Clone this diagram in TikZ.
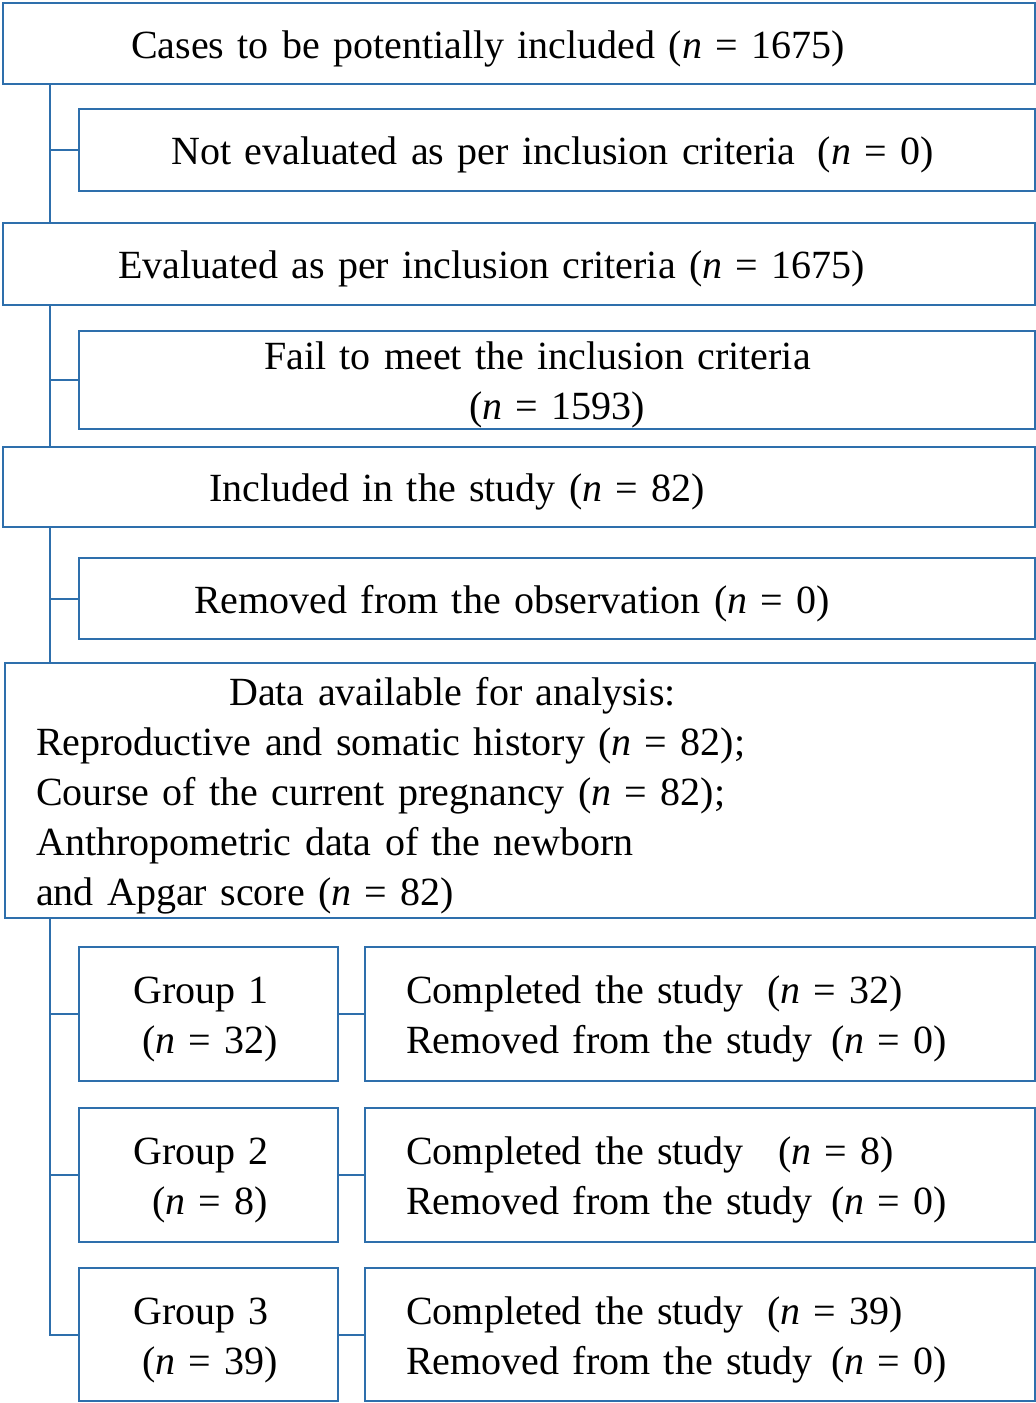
\documentclass[tikz,border=0pt]{standalone}
\usepackage{fontspec}
\setmainfont{Liberation Serif}
\usepackage{tikz}
\usetikzlibrary{positioning}
\definecolor{FlowBlue}{HTML}{2E6FAC}
\newcommand{\nval}[1]{(\textit{n} = #1)}

\tikzset{
  box/.style={draw=FlowBlue, line width=2.4pt, rectangle, anchor=north west, inner sep=0pt, align=left, text height=38pt, font=\fontsize{40}{50}\selectfont},
  link/.style={draw=FlowBlue, line width=2.4pt},
}

\begin{document}
\begin{tikzpicture}[x=1pt, y=-1pt]
\useasboundingbox (0,0) rectangle (1036,1403);
\coordinate (trunk) at (50,0);
% screening stages
\node[box, text width=1032pt, minimum height=81pt] (cases) at (2,2) {\hspace*{128pt}Cases to be potentially included \nval{1675}};
\node[box, text width=956pt, minimum height=82pt] (noteval) at (78,108) {\hspace*{92pt}Not evaluated as per inclusion criteria \hspace{9pt}\nval{0}};
\node[box, text width=1032pt, minimum height=82pt] (evaluated) at (2,222) {\hspace*{115pt}Evaluated as per inclusion criteria \nval{1675}};
\node[box, text width=956pt, minimum height=98pt] (fail) at (78,330) {\hspace*{185pt}Fail to meet the inclusion criteria\\\hspace*{390pt}\nval{1593}};
\node[box, text width=1032pt, minimum height=80pt] (included) at (2,446) {\hspace*{206pt}Included in the study \nval{82}};
\node[box, text width=956pt, minimum height=81pt] (removed) at (78,557) {\hspace*{115pt}Removed from the observation \nval{0}};
\node[box, text width=1030pt, minimum height=255pt] (data) at (4,662) {\hspace*{224pt}Data available for analysis:\\
  \hspace*{31pt}Reproductive and somatic history \nval{82};\\
  \hspace*{31pt}Course of the current pregnancy \nval{82};\\
  \hspace*{31pt}Anthropometric data of the newborn\\
  \hspace*{31pt}and Apgar score \nval{82}};
% groups
\node[box, text width=259pt, minimum height=134pt] (grp1) at (78,946) {\hspace*{54pt}Group 1\\\hspace*{63pt}\nval{32}};
\node[box, text width=259pt, minimum height=134pt] (grp2) at (78,1107) {\hspace*{54pt}Group 2\\\hspace*{73pt}\nval{8}};
\node[box, text width=259pt, minimum height=133pt] (grp3) at (78,1267) {\hspace*{54pt}Group 3\\\hspace*{63pt}\nval{39}};
\node[box, text width=670pt, minimum height=134pt] (done1) at (364,946) {\hspace*{41pt}Completed the study \hspace{10pt}\nval{32}\\\hspace*{41pt}Removed from the study \hspace{5pt}\nval{0}};
\node[box, text width=670pt, minimum height=134pt] (done2) at (364,1107) {\hspace*{41pt}Completed the study \hspace{21pt}\nval{8}\\\hspace*{41pt}Removed from the study \hspace{5pt}\nval{0}};
\node[box, text width=670pt, minimum height=133pt] (done3) at (364,1267) {\hspace*{41pt}Completed the study \hspace{10pt}\nval{39}\\\hspace*{41pt}Removed from the study \hspace{5pt}\nval{0}};
% connectors
\draw[link] (cases.south -| trunk) -- (evaluated.north -| trunk);
\draw[link] (noteval.west) -- (noteval.west -| trunk);
\draw[link] (evaluated.south -| trunk) -- (included.north -| trunk);
\draw[link] (fail.west) -- (fail.west -| trunk);
\draw[link] (included.south -| trunk) -- (data.north -| trunk);
\draw[link] (removed.west) -- (removed.west -| trunk);
\draw[link] (data.south -| trunk) |- (grp3.west);
\draw[link] (grp1.west) -- (grp1.west -| trunk);
\draw[link] (grp2.west) -- (grp2.west -| trunk);
\draw[link] (grp1.east) -- (done1.west);
\draw[link] (grp2.east) -- (done2.west);
\draw[link] (grp3.east) -- (done3.west);
\end{tikzpicture}
\end{document}
